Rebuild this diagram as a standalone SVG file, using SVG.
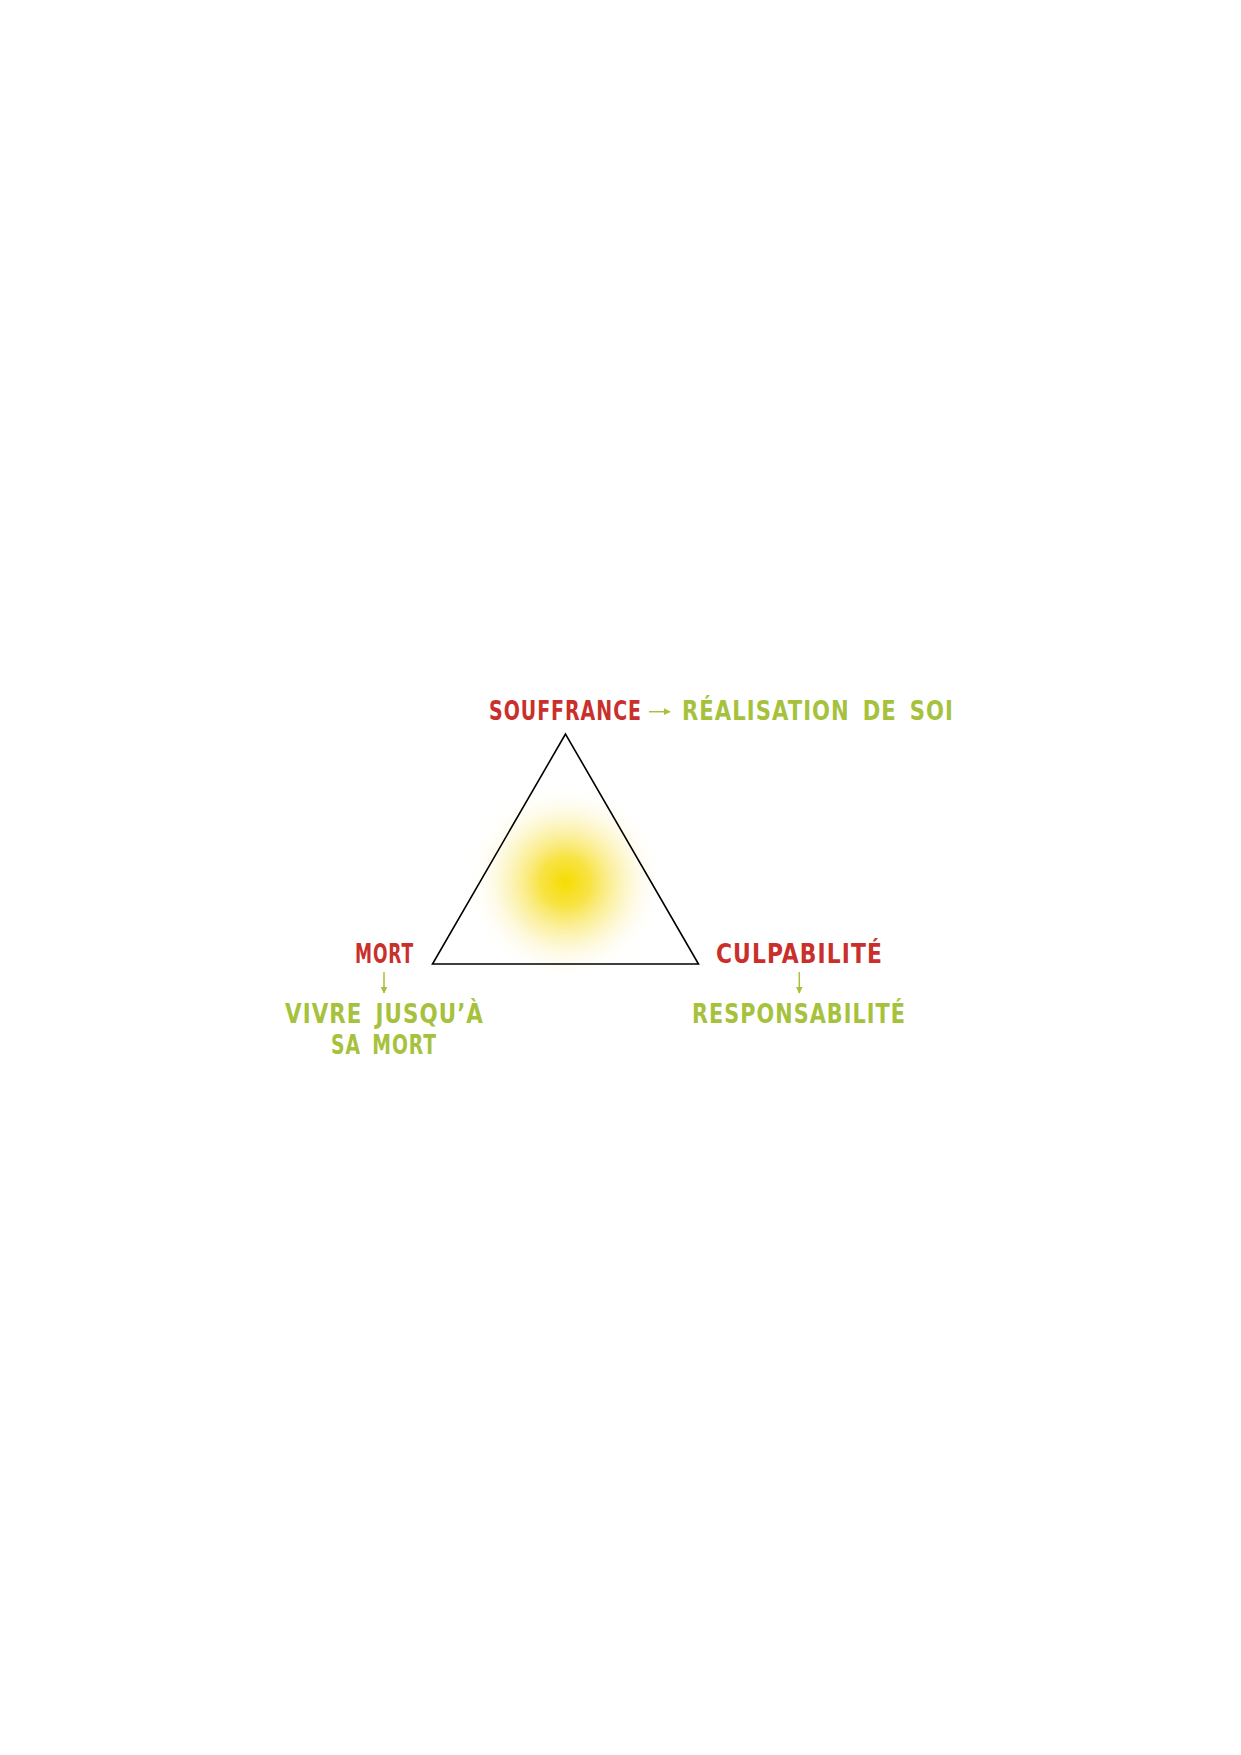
<svg xmlns="http://www.w3.org/2000/svg" width="1241" height="1755" viewBox="0 0 1241 1755">
<style>
  .t { font-family: "Liberation Sans Narrow", "DejaVu Sans", "Liberation Sans", sans-serif; font-weight: bold; font-size: 26.5px; font-stretch: condensed; letter-spacing: 1.2px; word-spacing: 5px; }
  .red { fill: #C9302C; }
  .green { fill: #A6C13C; }
  .conn { stroke: #A6C13C; stroke-width: 1.5; fill: none; }
</style>
<defs>
  <radialGradient id="glow" cx="565.5" cy="882" r="100" gradientUnits="userSpaceOnUse">
    <stop offset="0" stop-color="#F6DC00"/>
    <stop offset="0.25" stop-color="#F7E030" stop-opacity="0.9"/>
    <stop offset="0.55" stop-color="#FAEA80" stop-opacity="0.55"/>
    <stop offset="0.8" stop-color="#FDF6D0" stop-opacity="0.25"/>
    <stop offset="1" stop-color="#FFFFFF" stop-opacity="0"/>
  </radialGradient>
  <marker id="ah" viewBox="0 0 10 10" refX="9" refY="5" markerWidth="4.5" markerHeight="4.5" orient="auto" markerUnits="strokeWidth">
    <path d="M0,0 L10,5 L0,10 z" fill="#A6C13C"/>
  </marker>
</defs>
<rect width="1241" height="1755" fill="#FFFFFF"/>
<g id="glow-center">
  <circle cx="565.5" cy="882" r="100" fill="url(#glow)"/>
</g>
<g id="triangle">
  <polygon points="565.5,734 432.5,964 698.5,964" fill="none" stroke="#000000" stroke-width="1.6" stroke-linejoin="miter"/>
</g>
<g id="souffrance">
  <text class="t red" x="489" y="720" textLength="153" lengthAdjust="spacingAndGlyphs">SOUFFRANCE</text>
</g>
<g id="realisation">
  <text class="t green" x="682" y="720" textLength="272" lengthAdjust="spacingAndGlyphs">RÉALISATION DE SOI</text>
</g>
<g id="mort">
  <text class="t red" x="355" y="963" textLength="59" lengthAdjust="spacingAndGlyphs">MORT</text>
</g>
<g id="vivre">
  <text class="t green" x="285" y="1023" textLength="199" lengthAdjust="spacingAndGlyphs">VIVRE JUSQU’À</text>
  <text class="t green" x="331" y="1054" textLength="106" lengthAdjust="spacingAndGlyphs">SA MORT</text>
</g>
<g id="culpabilite">
  <text class="t red" x="716" y="962.5" textLength="167" lengthAdjust="spacingAndGlyphs">CULPABILITÉ</text>
</g>
<g id="responsabilite">
  <text class="t green" x="692" y="1023" textLength="214" lengthAdjust="spacingAndGlyphs">RESPONSABILITÉ</text>
</g>
<g id="connectors">
  <line class="conn" x1="649" y1="711.7" x2="670" y2="711.7" marker-end="url(#ah)"/>
  <line class="conn" x1="384" y1="972" x2="384" y2="993" marker-end="url(#ah)"/>
  <line class="conn" x1="799.3" y1="972" x2="799.3" y2="993" marker-end="url(#ah)"/>
</g>
</svg>
